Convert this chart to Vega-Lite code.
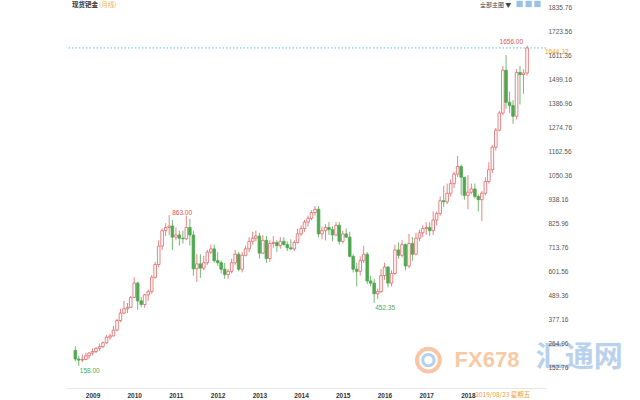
{
  "$schema": "https://vega.github.io/schema/vega-lite/v6.json",
  "width": 480,
  "height": 388,
  "autosize": {"type": "none"},
  "padding": {"left": 66, "top": 0, "right": 94, "bottom": 12},
  "background": "white",
  "config": {"view": {"stroke": null}, "font": "Liberation Sans", "axis": {"labelOverlap": false}},
  "data": {"values": [
    {"date":"2008-11-01","open":230,"high":250,"low":180,"close":190},
    {"date":"2008-12-01","open":190,"high":205,"low":158,"close":185},
    {"date":"2009-01-01","open":185,"high":212,"low":176,"close":188},
    {"date":"2009-02-01","open":188,"high":220,"low":185,"close":205},
    {"date":"2009-03-01","open":205,"high":222,"low":190,"close":218},
    {"date":"2009-04-01","open":218,"high":240,"low":207,"close":225},
    {"date":"2009-05-01","open":225,"high":245,"low":218,"close":240},
    {"date":"2009-06-01","open":240,"high":262,"low":228,"close":248},
    {"date":"2009-07-01","open":248,"high":272,"low":240,"close":266},
    {"date":"2009-08-01","open":266,"high":302,"low":262,"close":292},
    {"date":"2009-09-01","open":292,"high":308,"low":280,"close":298},
    {"date":"2009-10-01","open":298,"high":345,"low":296,"close":325},
    {"date":"2009-11-01","open":325,"high":378,"low":320,"close":370},
    {"date":"2009-12-01","open":370,"high":425,"low":362,"close":405},
    {"date":"2010-01-01","open":405,"high":462,"low":400,"close":425},
    {"date":"2010-02-01","open":425,"high":452,"low":405,"close":432},
    {"date":"2010-03-01","open":432,"high":485,"low":430,"close":478},
    {"date":"2010-04-01","open":478,"high":572,"low":475,"close":545},
    {"date":"2010-05-01","open":545,"high":552,"low":420,"close":462},
    {"date":"2010-06-01","open":462,"high":480,"low":432,"close":445},
    {"date":"2010-07-01","open":445,"high":495,"low":430,"close":490},
    {"date":"2010-08-01","open":490,"high":515,"low":462,"close":505},
    {"date":"2010-09-01","open":505,"high":582,"low":495,"close":572},
    {"date":"2010-10-01","open":572,"high":645,"low":565,"close":632},
    {"date":"2010-11-01","open":632,"high":745,"low":620,"close":718},
    {"date":"2010-12-01","open":718,"high":800,"low":700,"close":790},
    {"date":"2011-01-01","open":790,"high":825,"low":765,"close":805},
    {"date":"2011-02-01","open":805,"high":863,"low":770,"close":812},
    {"date":"2011-03-01","open":812,"high":840,"low":700,"close":760},
    {"date":"2011-04-01","open":760,"high":805,"low":745,"close":770},
    {"date":"2011-05-01","open":770,"high":790,"low":720,"close":755},
    {"date":"2011-06-01","open":755,"high":790,"low":730,"close":752},
    {"date":"2011-07-01","open":752,"high":860,"low":745,"close":805},
    {"date":"2011-08-01","open":805,"high":845,"low":720,"close":770},
    {"date":"2011-09-01","open":770,"high":790,"low":580,"close":612},
    {"date":"2011-10-01","open":612,"high":680,"low":550,"close":635},
    {"date":"2011-11-01","open":635,"high":680,"low":570,"close":615},
    {"date":"2011-12-01","open":615,"high":672,"low":605,"close":640},
    {"date":"2012-01-01","open":640,"high":700,"low":630,"close":690},
    {"date":"2012-02-01","open":690,"high":725,"low":680,"close":705},
    {"date":"2012-03-01","open":705,"high":725,"low":640,"close":650},
    {"date":"2012-04-01","open":650,"high":690,"low":625,"close":640},
    {"date":"2012-05-01","open":640,"high":650,"low":590,"close":610},
    {"date":"2012-06-01","open":610,"high":640,"low":565,"close":585},
    {"date":"2012-07-01","open":585,"high":610,"low":565,"close":600},
    {"date":"2012-08-01","open":600,"high":660,"low":590,"close":640},
    {"date":"2012-09-01","open":640,"high":700,"low":630,"close":680},
    {"date":"2012-10-01","open":680,"high":690,"low":600,"close":610},
    {"date":"2012-11-01","open":610,"high":690,"low":595,"close":675},
    {"date":"2012-12-01","open":675,"high":720,"low":670,"close":705},
    {"date":"2013-01-01","open":705,"high":760,"low":690,"close":740},
    {"date":"2013-02-01","open":740,"high":785,"low":725,"close":755},
    {"date":"2013-03-01","open":755,"high":790,"low":740,"close":765},
    {"date":"2013-04-01","open":765,"high":780,"low":660,"close":685},
    {"date":"2013-05-01","open":685,"high":770,"low":680,"close":745},
    {"date":"2013-06-01","open":745,"high":765,"low":640,"close":660},
    {"date":"2013-07-01","open":660,"high":745,"low":645,"close":730},
    {"date":"2013-08-01","open":730,"high":765,"low":710,"close":735},
    {"date":"2013-09-01","open":735,"high":745,"low":690,"close":720},
    {"date":"2013-10-01","open":720,"high":760,"low":705,"close":740},
    {"date":"2013-11-01","open":740,"high":760,"low":720,"close":725},
    {"date":"2013-12-01","open":725,"high":740,"low":695,"close":710},
    {"date":"2014-01-01","open":710,"high":750,"low":700,"close":705},
    {"date":"2014-02-01","open":705,"high":745,"low":695,"close":735},
    {"date":"2014-03-01","open":735,"high":800,"low":730,"close":775},
    {"date":"2014-04-01","open":775,"high":815,"low":765,"close":800},
    {"date":"2014-05-01","open":800,"high":840,"low":785,"close":830},
    {"date":"2014-06-01","open":830,"high":860,"low":810,"close":848},
    {"date":"2014-07-01","open":848,"high":885,"low":840,"close":875},
    {"date":"2014-08-01","open":875,"high":905,"low":860,"close":890},
    {"date":"2014-09-01","open":890,"high":905,"low":760,"close":775},
    {"date":"2014-10-01","open":775,"high":810,"low":750,"close":790},
    {"date":"2014-11-01","open":790,"high":820,"low":745,"close":805},
    {"date":"2014-12-01","open":805,"high":830,"low":770,"close":795},
    {"date":"2015-01-01","open":795,"high":810,"low":740,"close":770},
    {"date":"2015-02-01","open":770,"high":830,"low":765,"close":815},
    {"date":"2015-03-01","open":815,"high":830,"low":725,"close":740},
    {"date":"2015-04-01","open":740,"high":790,"low":730,"close":775},
    {"date":"2015-05-01","open":775,"high":800,"low":755,"close":760},
    {"date":"2015-06-01","open":760,"high":785,"low":665,"close":670},
    {"date":"2015-07-01","open":670,"high":680,"low":595,"close":610},
    {"date":"2015-08-01","open":610,"high":640,"low":530,"close":600},
    {"date":"2015-09-01","open":600,"high":670,"low":580,"close":650},
    {"date":"2015-10-01","open":650,"high":720,"low":640,"close":680},
    {"date":"2015-11-01","open":680,"high":690,"low":540,"close":555},
    {"date":"2015-12-01","open":555,"high":580,"low":530,"close":545},
    {"date":"2016-01-01","open":545,"high":565,"low":452.35,"close":495},
    {"date":"2016-02-01","open":495,"high":520,"low":470,"close":505},
    {"date":"2016-03-01","open":505,"high":610,"low":500,"close":580},
    {"date":"2016-04-01","open":580,"high":640,"low":560,"close":620},
    {"date":"2016-05-01","open":620,"high":625,"low":525,"close":545},
    {"date":"2016-06-01","open":545,"high":605,"low":530,"close":590},
    {"date":"2016-07-01","open":590,"high":725,"low":585,"close":700},
    {"date":"2016-08-01","open":700,"high":735,"low":660,"close":675},
    {"date":"2016-09-01","open":675,"high":745,"low":665,"close":725},
    {"date":"2016-10-01","open":725,"high":730,"low":605,"close":625},
    {"date":"2016-11-01","open":625,"high":775,"low":615,"close":730},
    {"date":"2016-12-01","open":730,"high":760,"low":650,"close":680},
    {"date":"2017-01-01","open":680,"high":780,"low":675,"close":755},
    {"date":"2017-02-01","open":755,"high":795,"low":740,"close":780},
    {"date":"2017-03-01","open":780,"high":815,"low":760,"close":800},
    {"date":"2017-04-01","open":800,"high":830,"low":770,"close":805},
    {"date":"2017-05-01","open":805,"high":830,"low":765,"close":790},
    {"date":"2017-06-01","open":790,"high":880,"low":770,"close":840},
    {"date":"2017-07-01","open":840,"high":880,"low":815,"close":870},
    {"date":"2017-08-01","open":870,"high":950,"low":860,"close":930},
    {"date":"2017-09-01","open":930,"high":1000,"low":900,"close":925},
    {"date":"2017-10-01","open":925,"high":1010,"low":915,"close":965},
    {"date":"2017-11-01","open":965,"high":1030,"low":950,"close":1010},
    {"date":"2017-12-01","open":1010,"high":1065,"low":990,"close":1055},
    {"date":"2018-01-01","open":1055,"high":1140,"low":1040,"close":1090},
    {"date":"2018-02-01","open":1090,"high":1100,"low":955,"close":1040},
    {"date":"2018-03-01","open":1040,"high":1040,"low":935,"close":955},
    {"date":"2018-04-01","open":955,"high":1050,"low":890,"close":970},
    {"date":"2018-05-01","open":970,"high":1010,"low":960,"close":985},
    {"date":"2018-06-01","open":985,"high":1010,"low":940,"close":950},
    {"date":"2018-07-01","open":950,"high":960,"low":880,"close":935},
    {"date":"2018-08-01","open":935,"high":975,"low":835,"close":965},
    {"date":"2018-09-01","open":965,"high":1040,"low":955,"close":1020},
    {"date":"2018-10-01","open":1020,"high":1110,"low":1010,"close":1075},
    {"date":"2018-11-01","open":1075,"high":1190,"low":1060,"close":1180},
    {"date":"2018-12-01","open":1180,"high":1270,"low":1165,"close":1260},
    {"date":"2019-01-01","open":1260,"high":1350,"low":1255,"close":1340},
    {"date":"2019-02-01","open":1340,"high":1560,"low":1330,"close":1540},
    {"date":"2019-03-01","open":1540,"high":1611,"low":1360,"close":1390},
    {"date":"2019-04-01","open":1390,"high":1440,"low":1340,"close":1375},
    {"date":"2019-05-01","open":1375,"high":1400,"low":1290,"close":1325},
    {"date":"2019-06-01","open":1325,"high":1545,"low":1310,"close":1530},
    {"date":"2019-07-01","open":1530,"high":1560,"low":1380,"close":1520},
    {"date":"2019-08-01","open":1520,"high":1545,"low":1430,"close":1527},
    {"date":"2019-09-01","open":1527,"high":1656,"low":1515,"close":1644.32}
  ]},
  "layer": [
    {
      "data": {"values": [{}]},
      "mark": {"type": "rule", "color": "#5bc0de", "strokeDash": [1.5, 2], "strokeWidth": 1},
      "encoding": {"y": {"datum": 1644.32, "type": "quantitative"}}
    },
    {
      "data": {"values": [{}]},
      "mark": {"type": "point", "shape": "circle", "filled": false, "size": 520, "strokeWidth": 4, "color": "#f3b48a", "opacity": 0.75},
      "encoding": {
        "x": {"datum": {"year": 2017, "month": 4, "date": 20}, "type": "temporal"},
        "y": {"datum": 185, "type": "quantitative"}
      }
    },
    {
      "data": {"values": [{}]},
      "mark": {"type": "point", "shape": "circle", "filled": false, "size": 130, "strokeWidth": 3, "color": "#9ec0e6", "opacity": 0.75},
      "encoding": {
        "x": {"datum": {"year": 2017, "month": 4, "date": 20}, "type": "temporal"},
        "y": {"datum": 185, "type": "quantitative"}
      }
    },
    {
      "data": {"values": [{}]},
      "mark": {"type": "text", "align": "center", "baseline": "middle", "fontSize": 22, "fontWeight": "bold", "color": "#f6bd8f", "opacity": 0.8, "font": "Liberation Sans"},
      "encoding": {
        "x": {"datum": {"year": 2018, "month": 9, "date": 15}, "type": "temporal"},
        "y": {"datum": 185, "type": "quantitative"},
        "text": {"value": "FX678"}
      }
    },
    {
      "data": {"values": [{}]},
      "mark": {"type": "text", "align": "center", "baseline": "middle", "fontSize": 29, "fontWeight": "bold", "color": "#a9c6ea", "opacity": 0.8, "font": "Noto Sans CJK SC"},
      "encoding": {
        "x": {"datum": {"year": 2020, "month": 12, "date": 1}, "type": "temporal"},
        "y": {"datum": 195, "type": "quantitative"},
        "text": {"value": "汇通网"}
      }
    },
    {
      "mark": {"type": "rule", "strokeWidth": 0.8},
      "encoding": {
        "x": {"field": "date", "type": "temporal", "title": null,
          "scale": {"domain": [{"year": 2008, "month": 9, "date": 24}, {"year": 2020, "month": 1, "date": 1}]},
          "axis": {
            "values": [{"year":2009,"month":1,"date":1},{"year":2010,"month":1,"date":1},{"year":2011,"month":1,"date":1},{"year":2012,"month":1,"date":1},{"year":2013,"month":1,"date":1},{"year":2014,"month":1,"date":1},{"year":2015,"month":1,"date":1},{"year":2016,"month":1,"date":1},{"year":2017,"month":1,"date":1},{"year":2018,"month":1,"date":1}],
            "tickCount": 30,
            "format": "%Y", "labelAlign": "left", "labelOffset": 3, "labelPadding": 4,
            "labelFontSize": 6.5, "labelColor": "#333333", "labelFontWeight": "bold",
            "ticks": false, "grid": false, "domain": true, "domainColor": "#e6e6e6",
            "labelOverlap": false, "labelFlush": false, "title": null
          }
        },
        "y": {"field": "low", "type": "quantitative", "title": null,
          "scale": {"domain": [54.6, 1868.5], "nice": false, "zero": false},
          "axis": {
            "orient": "right",
            "values": [152.76, 264.96, 377.16, 489.36, 601.56, 713.76, 825.96, 938.16, 1050.36, 1162.56, 1274.76, 1386.96, 1499.16, 1611.36, 1723.56, 1835.76],
            "tickCount": 40, "zindex": 1,
            "format": ".2f", "domain": false, "ticks": false, "grid": false,
            "labelPadding": 2, "labelFontSize": 6.5, "labelColor": "#555555",
            "labelOverlap": false, "labelFlush": false, "title": null
          }
        },
        "y2": {"field": "high"},
        "color": {"condition": {"test": "datum.close >= datum.open", "value": "#e06666"}, "value": "#4fa84f"}
      }
    },
    {
      "mark": {"type": "bar", "size": 2.6, "strokeWidth": 0.8},
      "encoding": {
        "x": {"field": "date", "type": "temporal", "title": null},
        "y": {"field": "open", "type": "quantitative", "title": null},
        "y2": {"field": "close"},
        "fill": {"condition": {"test": "datum.close >= datum.open", "value": "#ffffff"}, "value": "#4fa84f"},
        "stroke": {"condition": {"test": "datum.close >= datum.open", "value": "#e06666"}, "value": "#4fa84f"}
      }
    },
    {
      "data": {"values": [{}]},
      "mark": {"type": "text", "align": "left", "baseline": "middle", "dx": 4, "dy": 4, "fontSize": 6.5, "color": "#f0a030"},
      "encoding": {
        "x": {"datum": {"year": 2020, "month": 1, "date": 1}, "type": "temporal"},
        "y": {"datum": 1644.32, "type": "quantitative"},
        "text": {"value": "1644.32"}
      }
    },
    {
      "transform": [{"filter": "datum.high == 863"}],
      "mark": {"type": "text", "align": "left", "baseline": "middle", "dx": 3, "dy": -2, "fontSize": 6.5, "color": "#d9534f"},
      "encoding": {
        "x": {"field": "date", "type": "temporal"},
        "y": {"field": "high", "type": "quantitative"},
        "text": {"field": "high", "format": ".2f"}
      }
    },
    {
      "transform": [{"filter": "datum.high == 1656"}],
      "mark": {"type": "text", "align": "right", "baseline": "middle", "dx": -4, "dy": -3, "fontSize": 6.5, "color": "#d9534f"},
      "encoding": {
        "x": {"field": "date", "type": "temporal"},
        "y": {"field": "high", "type": "quantitative"},
        "text": {"field": "high", "format": ".2f"}
      }
    },
    {
      "transform": [{"filter": "datum.low == 158 || datum.low == 452.35"}],
      "mark": {"type": "text", "align": "left", "baseline": "middle", "dx": 1, "dy": 5, "fontSize": 6.5, "color": "#4fa84f"},
      "encoding": {
        "x": {"field": "date", "type": "temporal"},
        "y": {"field": "low", "type": "quantitative"},
        "text": {"field": "low", "format": ".2f"}
      }
    },
    {
      "data": {"values": [{}]},
      "mark": {"type": "text", "align": "left", "baseline": "middle", "dx": 1, "fontSize": 6.5, "fontWeight": "bold", "color": "#333333", "font": "Noto Sans CJK SC"},
      "encoding": {
        "x": {"datum": {"year": 2008, "month": 9, "date": 24}, "type": "temporal"},
        "y": {"datum": 1845, "type": "quantitative"},
        "text": {"value": "现货钯金"}
      }
    },
    {
      "data": {"values": [{}]},
      "mark": {"type": "text", "align": "left", "baseline": "middle", "dx": 28, "fontSize": 6.5, "color": "#f0ad4e", "font": "Noto Sans CJK SC"},
      "encoding": {
        "x": {"datum": {"year": 2008, "month": 9, "date": 24}, "type": "temporal"},
        "y": {"datum": 1845, "type": "quantitative"},
        "text": {"value": "(月线)"}
      }
    },
    {
      "data": {"values": [{}]},
      "mark": {"type": "text", "align": "left", "baseline": "middle", "fontSize": 6, "color": "#444444", "font": "Noto Sans CJK SC"},
      "encoding": {
        "x": {"datum": {"year": 2018, "month": 7, "date": 15}, "type": "temporal"},
        "y": {"datum": 1847, "type": "quantitative"},
        "text": {"value": "全部主图 ▼"}
      }
    },
    {
      "data": {"values": [{"b": "a", "d": "2019-06-28"}, {"b": "b", "d": "2019-09-15"}, {"b": "c", "d": "2019-12-01"}]},
      "mark": {"type": "point", "shape": "square", "filled": true, "size": 40, "color": "#6fa8dc"},
      "encoding": {
        "x": {"field": "d", "type": "temporal"},
        "y": {"datum": 1850, "type": "quantitative"}
      }
    },
    {
      "data": {"values": [{}]},
      "mark": {"type": "text", "align": "center", "baseline": "middle", "fontSize": 6.5, "color": "#f0a030", "font": "Noto Sans CJK SC"},
      "encoding": {
        "x": {"datum": {"year": 2019, "month": 2, "date": 1}, "type": "temporal"},
        "y": {"datum": 22, "type": "quantitative"},
        "text": {"value": "2019/08/23 星期五"}
      }
    }
  ]
}
